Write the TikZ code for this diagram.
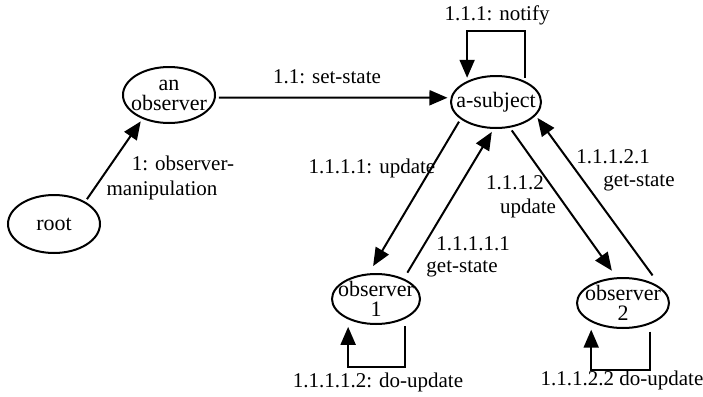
\documentclass[tikz,border=0pt]{standalone}
\usepackage{fontspec}
\setmainfont{Liberation Serif}
\usetikzlibrary{arrows.meta,shapes.geometric}
\begin{document}
\begin{tikzpicture}[x=0.5pt,y=-0.5pt,
  font=\fontsize{10.5}{12}\selectfont,
  obj/.style={draw, ellipse, line width=1pt, inner sep=0pt, outer sep=2pt},
  farobj/.style={obj, outer sep=4pt},
  objtext/.style={align=center, inner sep=0pt, font=\fontsize{11}{10}\selectfont},
  msg/.style={-{Triangle[length=9pt,width=7.5pt]}, line width=1pt},
  lbl/.style={inner sep=0pt}]
\useasboundingbox (0,0) rectangle (703,397);

% objects
\node[obj, minimum width=46pt, minimum height=29pt] (root) at (54,224) {};
\node[objtext] (root-t) at (root) {root};
\node[obj, minimum width=46pt, minimum height=28pt] (anobs) at (169,95) {};
\node[objtext] (anobs-t) at (anobs) {an\\observer};
\node[obj, minimum width=45pt, minimum height=26pt] (asub) at (496,102) {};
\node[objtext] (asub-t) at (asub) {a-subject};
\node[farobj, minimum width=44pt, minimum height=25pt] (obs1) at (376,299) {};
\node[objtext] (obs1-t) at (obs1) {observer\\1};
\node[farobj, minimum width=46pt, minimum height=25pt] (obs2) at (623,303) {};
\node[objtext] (obs2-t) at (obs2) {observer\\2};

% messages
\draw[msg] (root.37.8) -- (anobs.223);
\draw[msg] (anobs.-3.5) -- (asub.175.3);

\coordinate (nloop) at (496,31);
\draw[msg] (asub.40) |- (nloop) -| (asub.140);

\draw[msg] (asub.208.9) -- (obs1.95);
\draw[msg] (obs1.40) -- (asub.262);
\draw[msg] (asub.299.5) -- (obs2.109.9);
\draw[msg] (obs2.43) -- (asub.339.3);

\coordinate (loop1) at (375,367);
\draw[msg] (obs1.-43) |- (loop1) -| (obs1.-135);
\coordinate (loop2) at (621,370);
\draw[msg] (obs2.-47) |- (loop2) -| (obs2.-140);

% message labels
\node[lbl] (l1a) at (183,163) {1: observer-};
\node[lbl] (l1b) at (162,190) {manipulation};
\node[lbl] (l11) at (327,77) {1.1: set-state};
\node[lbl] (l111) at (497,15) {1.1.1: notify};
\node[lbl] (l1111) at (372,168) {1.1.1.1: update};
\node[lbl] (l11111a) at (473,244) {1.1.1.1.1};
\node[lbl] (l11111b) at (462,269) {get-state};
\node[lbl] (l1112a) at (515,183) {1.1.1.2};
\node[lbl] (l1112b) at (528,208) {update};
\node[lbl] (l11121a) at (613,157) {1.1.1.2.1};
\node[lbl] (l11121b) at (639,183) {get-state};
\node[lbl] (l11112) at (378,382) {1.1.1.1.2: do-update};
\node[lbl] (l11122) at (622,380) {1.1.1.2.2 do-update};
\end{tikzpicture}
\end{document}
